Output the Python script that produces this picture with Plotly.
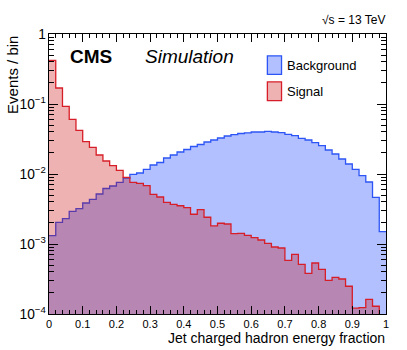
import numpy as np
import plotly.graph_objects as go

# 50 bins of width 0.02 between 0 and 1
bin_edges = np.round(np.arange(51) * 0.02, 2)

# normalised per-bin fractions
background = [0.00132, 0.00204, 0.00231, 0.00293, 0.00321, 0.00385, 0.00435, 0.00518, 0.00621, 0.00674,
              0.00761, 0.00877, 0.00990, 0.01033, 0.01167, 0.01344, 0.01460, 0.01693, 0.01868, 0.02062,
              0.02239, 0.02470, 0.02638, 0.02864, 0.03060, 0.03268, 0.03490, 0.03642, 0.03789, 0.03877,
              0.03981, 0.03981, 0.04074, 0.03981, 0.03890, 0.03690, 0.03524, 0.03236, 0.03060, 0.02800,
              0.02536, 0.02203, 0.01930, 0.01638, 0.01390, 0.01167, 0.00946, 0.00769, 0.00465, 0.00150]

signal = [0.421, 0.1693, 0.0927, 0.0605, 0.0421, 0.02893, 0.02406, 0.01868, 0.01533, 0.01318,
          0.01129, 0.00897, 0.00761, 0.00736, 0.00681, 0.00513, 0.00469, 0.00394, 0.00369, 0.00352,
          0.00330, 0.00266, 0.00309, 0.00241, 0.00181, 0.00198, 0.00193, 0.00141, 0.00142, 0.00133,
          0.00123, 0.00114, 0.00102, 0.000906, 0.000877, 0.000585, 0.000713, 0.000513, 0.000381, 0.000535,
          0.000435, 0.000303, 0.000334, 0.000316, 0.000249, 0.000121, 0.000123, 0.000162, 0.000129, 0.00005]

FONT = "Liberation Sans, Arial, sans-serif"


def step_trace(values, name, line_col, fill_col):
    # histogram outline: left edges + closing edge, drawn as hv steps
    ys = list(values) + [values[-1]]
    return go.Scatter(x=bin_edges, y=ys, mode="lines", line_shape="hv", name=name,
                      line=dict(color=line_col, width=1.3), fill="tozeroy", fillcolor=fill_col,
                      showlegend=False)


fig = go.Figure()
fig.add_trace(step_trace(background, "Background", "rgb(45,85,245)", "rgba(0,45,255,0.30)"))
fig.add_trace(step_trace(signal, "Signal", "rgb(215,30,40)", "rgba(200,0,0,0.30)"))

axis_common = dict(showline=True, linecolor="black", linewidth=1, mirror="allticks",
                   ticks="inside", tickcolor="black", showgrid=False, zeroline=False,
                   tickfont=dict(family=FONT, size=11, color="black"))

fig.update_xaxes(range=[0, 1], dtick=0.1, ticklen=8,
                 minor=dict(ticks="inside", ticklen=4, dtick=0.02, tickcolor="black", showgrid=False),
                 **axis_common)
fig.update_yaxes(type="log", range=[-4, 0], dtick=1, exponentformat="power", ticklen=9,
                 minor=dict(ticks="inside", ticklen=5, tickcolor="black", showgrid=False),
                 **axis_common)

# legend drawn by hand, ROOT style
fig.add_shape(type="rect", xref="paper", yref="paper", x0=0.648, x1=0.690, y0=0.856, y1=0.922,
              fillcolor="rgba(0,45,255,0.30)", line=dict(color="rgb(45,85,245)", width=1.3))
fig.add_shape(type="rect", xref="paper", yref="paper", x0=0.648, x1=0.690, y0=0.762, y1=0.829,
              fillcolor="rgba(200,0,0,0.30)", line=dict(color="rgb(215,30,40)", width=1.3))

for txt, ypos in [("Background", 0.886), ("Signal", 0.794)]:
    fig.add_annotation(x=0.700, y=ypos, xref="paper", yref="paper", text=txt, showarrow=False,
                       xanchor="left", yanchor="middle", font=dict(family=FONT, size=13, color="black"))

fig.add_annotation(x=0.056, y=0.919, xref="paper", yref="paper", text="<b>CMS</b>", showarrow=False,
                   xanchor="left", yanchor="middle", font=dict(family=FONT, size=19, color="black"))
fig.add_annotation(x=0.279, y=0.919, xref="paper", yref="paper", text="<i>Simulation</i>", showarrow=False,
                   xanchor="left", yanchor="middle", font=dict(family=FONT, size=19, color="black"))
fig.add_annotation(x=1.003, y=1.05, xref="paper", yref="paper", text="√s = 13 TeV", showarrow=False,
                   xanchor="right", yanchor="middle", font=dict(family=FONT, size=12, color="black"))
fig.add_annotation(x=1.003, y=-0.086, xref="paper", yref="paper", text="Jet charged hadron energy fraction",
                   showarrow=False, xanchor="right", yanchor="middle", font=dict(family=FONT, size=14, color="black"))
fig.add_annotation(x=-0.11, y=1.0, xref="paper", yref="paper", text="Events / bin", textangle=-90,
                   showarrow=False, xanchor="center", yanchor="top", font=dict(family=FONT, size=15, color="black"))

fig.update_layout(width=407, height=350, margin=dict(l=49, r=21, t=34, b=36),
                  plot_bgcolor="white", paper_bgcolor="white", showlegend=False)

# page body has a default 8px margin; drop it so the figure sits at the window corner
fig.write_html("out.html", config={"displayModeBar": False},
               post_script="document.body.style.margin='0px';")
